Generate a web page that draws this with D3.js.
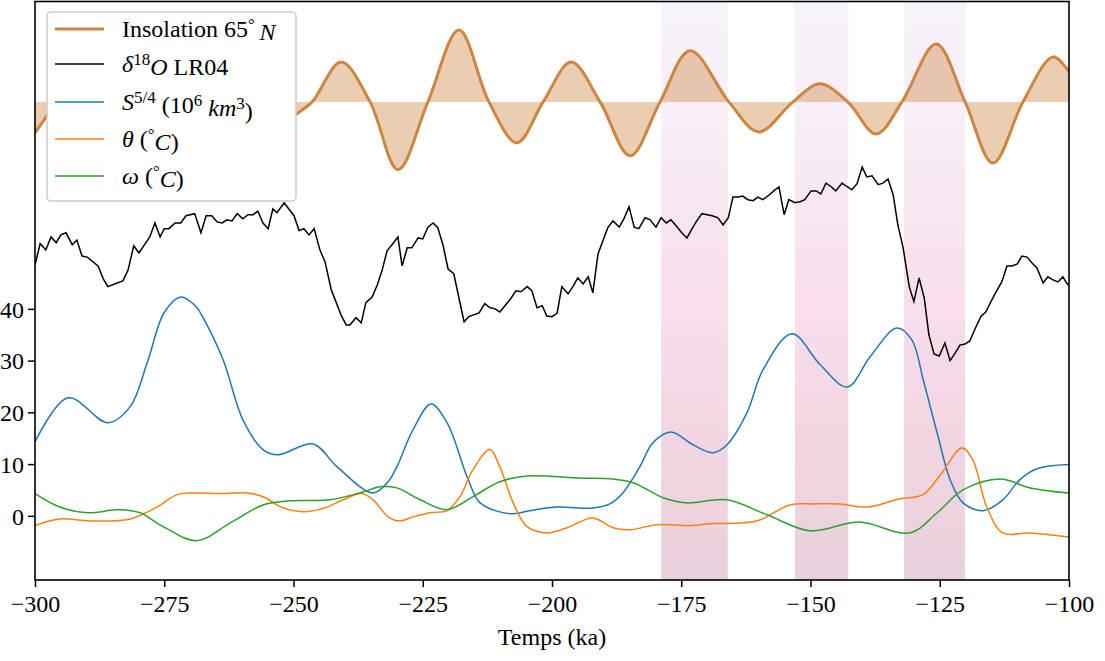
<!DOCTYPE html>
<html>
<head>
<meta charset="utf-8">
<script src="https://cdn.jsdelivr.net/npm/d3@7/dist/d3.min.js"></script>
<style>
  html, body { margin: 0; padding: 0; background: #fff; }
  svg { display: block; }
  text { font-family: "Liberation Serif", "DejaVu Serif", serif; }
</style>
</head>
<body>
<svg id="chart" width="1105" height="661"></svg>
<script>
// ---- Data (time in ka, values in plot units) ----
const xTicks = [-300, -275, -250, -225, -200, -175, -150, -125, -100];
const yTicks = [0, 10, 20, 30, 40];

// Deglaciation windows (ka)
const bandStart = [-178.9, -153.0, -131.9];
const bandEnd   = [-166.0, -142.7, -120.1];

// Summer insolation at 65°N (rescaled), drawn about its mean level
const insolMean = 80;
const insolTime  = [-300, -296, -289.5, -283, -276.5, -270, -264, -258, -252.5, -249.7, -246.4,
  -240.8, -235.2, -229.8, -224.0, -218.0, -212.2, -206.8, -201.7, -196.3, -190.7, -184.9,
  -179.1, -173.3, -165.8, -160.0, -153.4, -148.2, -142.8, -137.3, -132.3, -125.7, -120.1,
  -114.7, -108.9, -103.1, -100];
const insolValue = [74.0, 79.5, 86.5, 80.0, 73.5, 80.0, 86.0, 80.0, 75.5, 77.5, 80.0,
  87.7, 80.0, 66.9, 80.0, 93.9, 80.0, 72.1, 80.0, 87.7, 80.0, 69.6,
  80.0, 89.9, 80.0, 74.2, 80.0, 83.5, 80.0, 73.8, 80.0, 91.2, 80.0,
  68.2, 80.0, 88.7, 85.8];

// Benthic δ18O stack LR04 (rescaled, inverted)
const d18oTime = [-300.0, -299.0, -297.9, -296.9, -295.9, -295.0, -294.0, -292.8, -291.9, -290.9,
  -289.9, -287.8, -286.8, -285.9, -284.1, -283.0, -282.0, -280.9, -279.9, -277.8,
  -276.8, -275.8, -275.0, -274.1, -272.9, -271.8, -270.8, -269.1, -267.9, -266.9,
  -265.8, -264.8, -263.8, -262.9, -261.9, -260.9, -259.8, -258.8, -257.8, -256.9,
  -255.9, -254.9, -254.0, -253.2, -251.8, -250.9, -249.9, -248.9, -248.0, -247.0,
  -246.0, -244.9, -243.9, -242.7, -241.8, -240.8, -239.8, -239.1, -237.9, -236.9,
  -236.0, -234.8, -233.8, -232.9, -231.9, -230.8, -229.8, -229.0, -228.0, -227.1,
  -225.9, -225.0, -224.0, -223.0, -222.1, -221.1, -220.1, -219.0, -218.0, -217.0,
  -216.1, -214.1, -213.0, -212.0, -211.0, -210.1, -209.1, -207.9, -207.0, -206.0,
  -204.8, -203.9, -202.9, -201.9, -201.0, -200.0, -199.0, -198.1, -196.9, -195.9,
  -195.0, -194.0, -193.0, -192.1, -191.1, -190.1, -189.2, -188.2, -187.0, -186.1,
  -185.1, -184.1, -183.2, -182.0, -181.0, -179.9, -178.9, -177.9, -177.0, -175.8,
  -174.9, -173.9, -172.9, -172.0, -171.0, -170.0, -169.0, -167.9, -166.9, -165.9,
  -165.0, -164.0, -163.1, -162.1, -161.1, -160.2, -159.2, -158.0, -157.1, -156.1,
  -155.1, -154.2, -153.0, -152.0, -151.1, -149.9, -148.9, -148.0, -147.0, -146.0,
  -145.1, -143.9, -142.9, -142.0, -141.0, -140.0, -139.1, -138.1, -136.9, -136.0,
  -135.0, -134.0, -133.1, -132.1, -130.9, -130.0, -129.0, -128.0, -127.1, -126.1,
  -125.1, -124.0, -123.0, -122.0, -121.1, -120.1, -119.2, -118.0, -117.0, -116.1,
  -115.1, -114.1, -113.0, -112.0, -111.0, -110.0, -109.1, -108.1, -107.2, -106.2,
  -105.0, -104.1, -103.1, -102.1, -101.2, -100.2];
const d18oValue = [48.5, 52.6, 51.4, 53.9, 52.8, 54.3, 54.7, 52.4, 53.3, 50.2,
  50.0, 48.3, 45.8, 44.3, 45.0, 45.4, 47.5, 52.2, 50.8, 53.9,
  56.6, 53.9, 55.5, 55.5, 56.6, 56.6, 58.0, 58.4, 54.7, 58.0,
  58.0, 56.8, 56.6, 57.2, 57.0, 58.4, 57.4, 58.2, 58.2, 58.9,
  56.6, 55.5, 59.3, 58.6, 60.5, 59.3, 58.0, 55.1, 55.5, 54.3,
  55.5, 51.4, 49.1, 43.7, 41.4, 38.8, 36.9, 36.9, 38.3, 37.3,
  41.2, 42.3, 44.6, 47.3, 51.2, 52.6, 53.9, 48.3, 51.8, 51.8,
  53.7, 53.5, 55.8, 56.6, 55.7, 52.4, 47.7, 46.8, 42.1, 37.5,
  38.5, 39.2, 41.0, 40.2, 40.0, 39.4, 40.6, 42.1, 43.5, 43.3,
  44.3, 43.5, 40.2, 40.6, 38.6, 38.5, 39.2, 44.3, 42.9, 44.4,
  46.0, 44.8, 46.2, 43.1, 50.6, 53.3, 55.7, 57.0, 55.8, 57.4,
  59.7, 55.8, 55.5, 57.6, 57.2, 55.8, 57.6, 56.6, 57.2, 55.8,
  54.7, 53.7, 55.5, 57.0, 58.4, 58.2, 58.0, 57.6, 56.2, 57.6,
  61.6, 61.6, 61.8, 61.1, 60.9, 61.6, 61.1, 62.0, 62.8, 63.6,
  58.2, 61.1, 60.5, 60.7, 61.1, 62.8, 62.8, 62.2, 64.3, 63.6,
  62.8, 64.3, 63.6, 63.0, 64.2, 67.4, 65.5, 65.7, 64.0, 64.3,
  65.1, 62.0, 56.2, 51.9, 44.3, 41.4, 46.0, 42.1, 35.0, 31.3,
  30.9, 33.4, 30.0, 31.5, 33.0, 33.2, 33.8, 36.5, 38.6, 39.4,
  41.4, 43.3, 45.2, 48.3, 48.3, 48.7, 50.2, 50.0, 48.9, 47.9,
  45.0, 46.2, 45.6, 45.2, 46.2, 44.6];

// Ice volume S^(5/4), 10^6 km^3
const iceTime  = [-300.0, -293.6, -285.9, -281.6, -278.3, -275.0, -271.8, -269.0, -267.5, -263.6,
  -259.8, -255.9, -253.0, -246.2, -241.6, -234.6, -231.7, -230.0, -226.9, -223.4,
  -220.3, -216.4, -213.9, -208.1, -204.3, -199.0, -192.1, -188.8, -186.3, -183.0,
  -180.5, -177.0, -172.7, -168.9, -166.2, -162.3, -159.2, -153.6, -148.2, -142.9,
  -138.5, -133.3, -130.4, -128.2, -125.5, -123.0, -120.5, -116.6, -112.8, -109.5,
  -106.2, -100.0];
const iceValue = [14.3, 22.8, 18.0, 21.1, 29.6, 39.3, 42.3, 40.6, 38.3, 30.1,
  18.6, 12.8, 11.8, 13.9, 9.5, 4.4, 6.6, 9.5, 16.6, 21.6,
  18.0, 7.5, 2.5, 0.4, 1.0, 1.7, 1.5, 2.3, 4.4, 9.5,
  14.1, 16.2, 13.7, 12.2, 13.7, 19.9, 28.2, 35.2, 29.3, 24.9,
  30.7, 36.3, 34.0, 26.3, 16.0, 7.0, 2.5, 1.0, 3.1, 7.0,
  9.1, 9.9];

// θ (°C)
const thetaTime  = [-300.0, -295.2, -289.4, -281.6, -276.4, -272.5, -268.7, -264.8, -259.0, -255.9,
  -252.0, -248.2, -244.3, -240.4, -236.8, -234.6, -231.7, -229.4, -226.9, -223.6,
  -220.3, -217.8, -215.3, -212.0, -210.1, -207.5, -204.8, -201.0, -197.1, -192.1,
  -188.2, -184.9, -179.7, -173.3, -168.9, -163.6, -159.8, -154.0, -149.1, -144.3,
  -139.1, -132.7, -128.2, -124.9, -120.7, -118.6, -115.9, -112.8, -107.5, -100.0];
const thetaValue = [-1.9, -0.6, -1.0, -0.6, 1.7, 4.1, 4.4, 4.3, 4.4, 3.7,
  1.5, 0.8, 1.4, 3.1, 4.3, 3.1, -0.2, -1.0, -0.2, 0.6,
  1.0, 3.7, 8.9, 12.8, 9.5, 2.5, -2.1, -3.3, -2.3, -0.4,
  -2.3, -2.7, -1.7, -1.9, -1.5, -1.4, -0.8, 2.1, 2.3, 2.3,
  1.7, 3.3, 4.1, 7.9, 13.1, 10.8, 1.7, -3.3, -3.3, -4.1];

// ω (°C)
const omegaTime  = [-300.0, -295.2, -289.9, -283.6, -279.7, -275.2, -268.7, -262.3, -255.9, -250.7,
  -242.9, -236.6, -233.3, -230.0, -225.5, -220.3, -215.3, -210.1, -204.8, -194.6,
  -188.2, -184.3, -178.5, -173.9, -166.2, -158.4, -150.1, -140.6, -130.8, -125.5,
  -120.5, -113.3, -107.5, -100.0];
const omegaValue = [4.3, 1.7, 0.6, 1.2, 0.6, -2.1, -4.8, -1.4, 2.1, 2.9,
  3.1, 4.6, 5.6, 5.4, 3.1, 1.2, 3.7, 6.6, 7.7, 7.3,
  7.1, 6.4, 3.5, 2.5, 3.1, 0.2, -2.9, -1.2, -3.3, 0.6,
  5.0, 7.1, 5.4, 4.4];

// ---- Layout ----
const plot = { left: 35, right: 1069, top: 1.5, bottom: 580 };
const svg = d3.select("#chart");

const x = d3.scaleLinear().domain([-300, -100]).range([plot.left, plot.right]);
const y = d3.scaleLinear().domain([-12.4, 99.4]).range([plot.bottom, plot.top]);

const defs = svg.append("defs");
defs.append("clipPath").attr("id", "plotClip")
  .append("rect")
  .attr("x", plot.left).attr("y", plot.top)
  .attr("width", plot.right - plot.left).attr("height", plot.bottom - plot.top);

// vertical shading for the windows: pale lavender at the top to mauve-pink at the bottom
const grad = defs.append("linearGradient").attr("id", "bandGrad")
  .attr("x1", 0).attr("y1", 0).attr("x2", 0).attr("y2", 1);
[["0", "#f8f3fa"], ["0.25", "#f7ecf6"], ["0.5", "#f9dfee"], ["0.72", "#f4d6e4"], ["1", "#e9d0dd"]]
  .forEach(([o, c]) => grad.append("stop").attr("offset", o).attr("stop-color", c));

const g = svg.append("g").attr("clip-path", "url(#plotClip)");

// shaded windows
g.selectAll("rect.band")
  .data(bandStart.map((s, i) => ({ s, e: bandEnd[i] })))
  .join("rect")
  .attr("class", "band")
  .attr("x", d => x(d.s))
  .attr("width", d => x(d.e) - x(d.s))
  .attr("y", plot.top)
  .attr("height", plot.bottom - plot.top)
  .attr("fill", "url(#bandGrad)");

const smoothCurve = d3.curveCatmullRom.alpha(0.5);

// insolation anomaly fill + curve
const insol = insolTime.map((t, i) => ({ t, v: insolValue[i] }));
g.append("path")
  .datum(insol)
  .attr("d", d3.area().x(d => x(d.t)).y0(y(insolMean)).y1(d => y(d.v)).curve(smoothCurve))
  .attr("fill", "#cd853f")
  .attr("fill-opacity", 0.4);
g.append("path")
  .datum(insol)
  .attr("d", d3.line().x(d => x(d.t)).y(d => y(d.v)).curve(smoothCurve))
  .attr("fill", "none")
  .attr("stroke", "#cd853f")
  .attr("stroke-width", 3);

// δ18O (piecewise linear)
g.append("path")
  .datum(d18oTime.map((t, i) => ({ t, v: d18oValue[i] })))
  .attr("d", d3.line().x(d => x(d.t)).y(d => y(d.v)))
  .attr("fill", "none")
  .attr("stroke", "#000")
  .attr("stroke-width", 1.5)
  .attr("stroke-linejoin", "miter");

// smooth model outputs
[
  [iceTime, iceValue, "#1f77b4"],
  [thetaTime, thetaValue, "#ff7f0e"],
  [omegaTime, omegaValue, "#2ca02c"]
].forEach(([ts, vs, col]) => {
  g.append("path")
    .datum(ts.map((t, i) => ({ t, v: vs[i] })))
    .attr("d", d3.line().x(d => x(d.t)).y(d => y(d.v)).curve(smoothCurve))
    .attr("fill", "none")
    .attr("stroke", col)
    .attr("stroke-width", 1.5);
});

// ---- Axes ----
const fmt = d => (d < 0 ? "\u2212" + Math.abs(d) : String(d));

const xAxis = svg.append("g")
  .attr("transform", `translate(0,${plot.bottom})`)
  .call(d3.axisBottom(x).tickValues(xTicks).tickFormat(fmt).tickSize(7).tickPadding(5));
const yAxis = svg.append("g")
  .attr("transform", `translate(${plot.left},0)`)
  .call(d3.axisLeft(y).tickValues(yTicks).tickFormat(fmt).tickSize(7).tickPadding(4));

[xAxis, yAxis].forEach(ax => {
  ax.select(".domain").remove();
  ax.selectAll(".tick line").attr("stroke", "#000").attr("stroke-width", 1.5);
  ax.selectAll(".tick text")
    .attr("fill", "#000")
    .style("font-family", "'Liberation Serif', serif")
    .style("font-size", "24px");
});
xAxis.selectAll(".tick text").attr("dy", "0.82em");
yAxis.selectAll(".tick text").attr("dy", "0.34em");

// frame
svg.append("rect")
  .attr("x", plot.left).attr("y", plot.top)
  .attr("width", plot.right - plot.left).attr("height", plot.bottom - plot.top)
  .attr("fill", "none").attr("stroke", "#000").attr("stroke-width", 1.6);

// axis title
svg.append("text")
  .attr("x", (plot.left + plot.right) / 2)
  .attr("y", 645)
  .attr("text-anchor", "middle")
  .style("font-size", "24px")
  .text("Temps (ka)");

// ---- Legend ----
const legend = svg.append("g");
legend.append("rect")
  .attr("x", 47).attr("y", 12).attr("width", 249).attr("height", 189)
  .attr("rx", 4).attr("ry", 4)
  .attr("fill", "#fff")
  .attr("stroke", "#cccccc").attr("stroke-width", 1.5);

const legendRows = [
  { color: "#cd853f", width: 3, y: 29 },
  { color: "#000", width: 1.5, y: 64 },
  { color: "#1f77b4", width: 1.5, y: 102 },
  { color: "#ff7f0e", width: 1.5, y: 139 },
  { color: "#2ca02c", width: 1.5, y: 176 }
];
legendRows.forEach(r => {
  legend.append("line")
    .attr("x1", 55).attr("x2", 104).attr("y1", r.y).attr("y2", r.y)
    .attr("stroke", r.color).attr("stroke-width", r.width);
});

function addLabel(yPos, parts) {
  const t = legend.append("text")
    .attr("x", 122).attr("y", yPos + 8)
    .style("font-size", "24px");
  parts.forEach(p => {
    const s = t.append("tspan").text(p.text);
    if (p.italic) s.style("font-style", "italic");
    if (p.sup) s.attr("dy", "-0.42em").style("font-size", "17px");
    if (p.back) s.attr("dy", "0.42em");
  });
}
addLabel(29, [
  { text: "Insolation 65" },
  { text: "\u00b0", sup: true },
  { text: "\u2009N", italic: true, back: true }
]);
addLabel(64, [
  { text: "\u03b4", italic: true },
  { text: "18", sup: true },
  { text: "O", italic: true, back: true },
  { text: " LR04" }
]);
addLabel(102, [
  { text: "S", italic: true },
  { text: "5/4", sup: true },
  { text: " (10", back: true },
  { text: "6", sup: true },
  { text: " km", italic: true, back: true },
  { text: "3", sup: true },
  { text: ")", back: true }
]);
addLabel(139, [
  { text: "\u03b8", italic: true },
  { text: " (" },
  { text: "\u00b0", sup: true },
  { text: "C", italic: true, back: true },
  { text: ")" }
]);
addLabel(176, [
  { text: "\u03c9", italic: true },
  { text: " (" },
  { text: "\u00b0", sup: true },
  { text: "C", italic: true, back: true },
  { text: ")" }
]);
</script>
</body>
</html>
